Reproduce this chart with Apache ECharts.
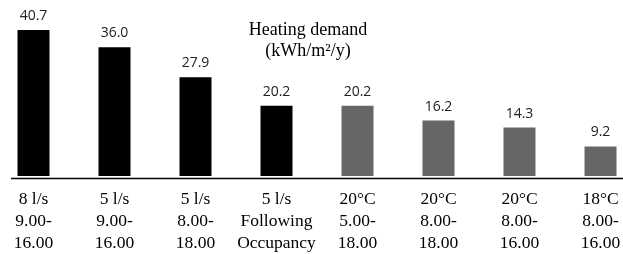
<!DOCTYPE html>
<html>
<head>
<meta charset="utf-8">
<script src="https://cdn.jsdelivr.net/npm/echarts@6/dist/echarts.min.js"></script>
<style>
html,body{margin:0;padding:0;background:#fff;overflow:hidden;}
#wrap{position:relative;width:623px;height:254px;overflow:hidden;}
#chart{position:absolute;left:-7px;top:0;width:648px;height:254px;}
</style>
</head>
<body>
<div id="wrap"><div id="chart"></div></div>
<script>
// Data
var categories = [
  "8 l/s\n9.00-\n16.00",
  "5 l/s\n9.00-\n16.00",
  "5 l/s\n8.00-\n18.00",
  "5 l/s\nFollowing\nOccupancy",
  "20\u00B0C\n5.00-\n18.00",
  "20\u00B0C\n8.00-\n18.00",
  "20\u00B0C\n8.00-\n16.00",
  "18\u00B0C\n8.00-\n16.00"
];
var heatingDemand = [40.7, 36.0, 27.9, 20.2, 20.2, 16.2, 14.3, 9.2];
var strategy = ["ventilation", "ventilation", "ventilation", "ventilation",
                "temperature", "temperature", "temperature", "temperature"];
var titleLines = ["Heating demand", "(kWh/m\u00B2/y)"];

var colorFor = { ventilation: "#000000", temperature: "#666666" };

var chart = echarts.init(document.getElementById('chart'), null, { renderer: 'canvas' });
chart.setOption({
  animation: false,
  backgroundColor: '#ffffff',
  title: {
    text: titleLines.join("\n"),
    left: 310,
    top: 15,
    textAlign: 'center',
    textStyle: {
      fontFamily: 'Liberation Serif',
      fontSize: 18,
      fontWeight: 'normal',
      color: '#000',
      lineHeight: 21,
      align: 'center'
    }
  },
  grid: { left: 0, right: 0, top: 14, bottom: 76, containLabel: false },
  xAxis: {
    type: 'category',
    data: categories,
    axisLine: { show: false },
    axisTick: { show: false },
    axisLabel: {
      interval: 0,
      margin: 12,
      fontFamily: 'Liberation Serif',
      fontSize: 17.5,
      lineHeight: 22,
      color: '#000'
    }
  },
  yAxis: {
    type: 'value',
    min: 1.2,
    max: 45,
    show: false,
    splitLine: { show: false }
  },
  series: [{
    type: 'bar',
    barWidth: 32,
    data: heatingDemand.map(function (v, i) {
      return { value: v, itemStyle: { color: colorFor[strategy[i]] } };
    }),
    label: {
      show: true,
      position: 'top',
      distance: 7,
      fontFamily: 'Open Sans',
      fontSize: 14,
      color: '#222',
      formatter: function (p) { return p.value.toFixed(1); }
    }
  }],
  graphic: [{
    type: 'line',
    shape: { x1: 18, y1: 178.5, x2: 648, y2: 178.5 },
    style: { stroke: '#000', lineWidth: 1.5 },
    z: 10
  }]
});
</script>
</body>
</html>
